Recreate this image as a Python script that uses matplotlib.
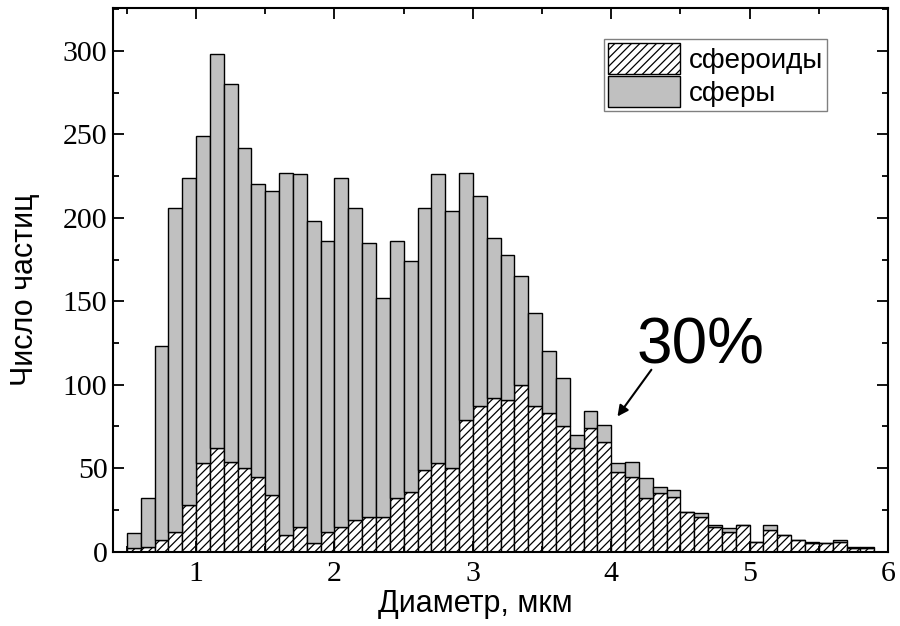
import matplotlib
matplotlib.use("Agg")
import matplotlib.pyplot as plt
import numpy as np
from matplotlib.ticker import MultipleLocator

# Histogram bins: 0.1 um wide, starting at 0.5 um
bin_start = 0.5
bin_width = 0.1

# Particle counts per bin
spheroids = [2, 3, 7, 12, 28, 53, 62, 54, 50, 45,
             34, 10, 15, 5, 12, 15, 19, 21, 21, 32,
             36, 49, 53, 50, 79, 87, 92, 91, 100, 87,
             83, 75, 62, 74, 66, 48, 45, 32, 35, 33,
             24, 21, 15, 12, 16, 6, 13, 10, 7, 5,
             5, 6, 2, 2]
spheres = [9, 29, 116, 194, 196, 196, 236, 226, 192, 175,
           182, 217, 211, 193, 174, 209, 187, 164, 131, 154,
           138, 157, 173, 154, 148, 126, 96, 87, 65, 56,
           37, 29, 8, 10, 10, 5, 9, 12, 4, 4,
           0, 2, 1, 2, 0, 0, 3, 0, 0, 1,
           0, 1, 1, 1]

x_ticks = [1, 2, 3, 4, 5, 6]
y_ticks = [0, 50, 100, 150, 200, 250, 300]

label_font = ["Liberation Sans", "DejaVu Sans"]
tick_font = "Liberation Serif"

plt.rcParams["hatch.linewidth"] = 0.9

fig = plt.figure(figsize=(9, 6.26), dpi=100)
ax = fig.add_axes([0.1256, 0.1187, 0.8611, 0.8693])

edges = bin_start + bin_width * np.arange(len(spheroids))
ax.bar(edges, spheroids, width=bin_width, align="edge", color="white",
       edgecolor="black", linewidth=1.0, hatch="////", label="сфероиды")
ax.bar(edges, spheres, width=bin_width, align="edge", bottom=spheroids,
       color="#c0c0c0", edgecolor="black", linewidth=1.0, label="сферы")

ax.set_xlim(0.4, 6.0)
ax.set_ylim(0, 326)
ax.set_xticks(x_ticks)
ax.set_yticks(y_ticks)
ax.xaxis.set_minor_locator(MultipleLocator(0.5))
ax.yaxis.set_minor_locator(MultipleLocator(25))
ax.tick_params(which="both", direction="in", top=True, right=True, width=1.3)
ax.tick_params(which="major", length=8)
ax.tick_params(which="minor", length=4.5)
ax.tick_params(axis="x", pad=7)
ax.tick_params(axis="y", pad=4)
for lab in ax.get_xticklabels() + ax.get_yticklabels():
    lab.set_fontfamily(tick_font)
    lab.set_fontsize(21.5)
for sp in ax.spines.values():
    sp.set_linewidth(1.5)

ax.set_xlabel("Диаметр, мкм", family=label_font, fontsize=22)
ax.set_ylabel("Число частиц", family=label_font, fontsize=22)
ax.xaxis.set_label_coords(0.467, -0.068)
ax.yaxis.set_label_coords(-0.094, 0.481)

ax.annotate("", xy=(4.045, 81), xytext=(4.29, 109),
            arrowprops=dict(arrowstyle="-|>", color="black", lw=1.5,
                            mutation_scale=16, shrinkA=0, shrinkB=0))
ax.text(4.18, 113, "30%", family=label_font, fontsize=46,
        ha="left", va="baseline")

leg = ax.legend(loc="upper right", bbox_to_anchor=(0.921, 0.942),
                borderaxespad=0, fancybox=False, framealpha=1,
                edgecolor="#808080", prop={"family": label_font, "size": 20},
                handlelength=2.6, handleheight=1.3, handletextpad=0.3,
                labelspacing=0.1, borderpad=0.15)
leg.get_frame().set_linewidth(1.0)

fig.savefig("out.png", dpi=100)
